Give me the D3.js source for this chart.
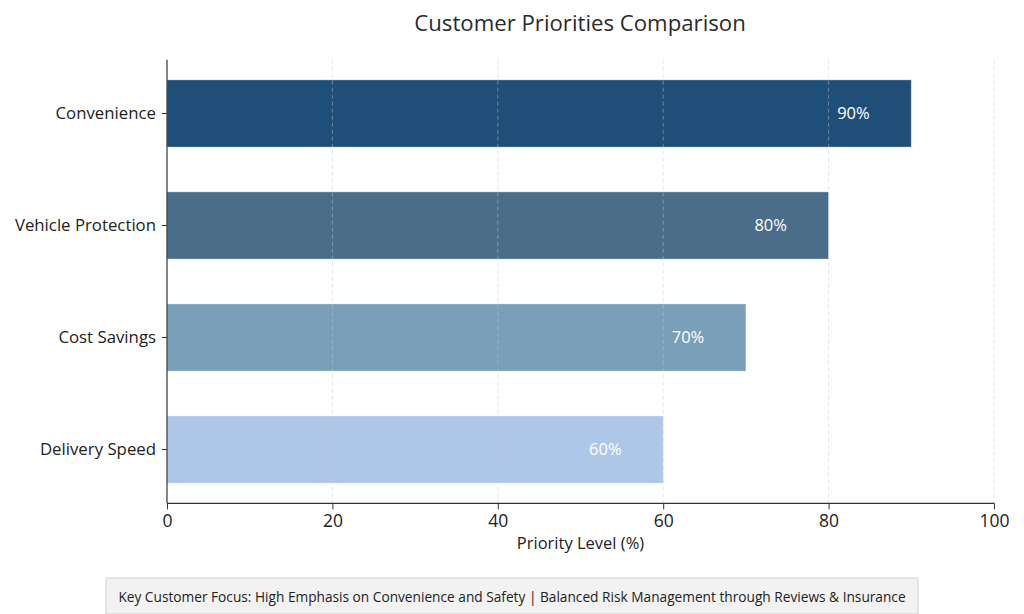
<!DOCTYPE html>
<html>
<head>
<meta charset="utf-8">
<script src="https://cdn.jsdelivr.net/npm/d3@7"></script>
<style>
  body { margin: 0; background: #fff; }
  svg { display: block; font-family: "Open Sans", "Lato", sans-serif; }
</style>
</head>
<body>
<svg id="chart" width="1024" height="614"></svg>
<script>
const categories = ["Convenience", "Vehicle Protection", "Cost Savings", "Delivery Speed"];
const values = [90, 80, 70, 60];
const barColors = ["#1f4e79", "#4a6d89", "#7a9fb8", "#aec6e8"];
const xTicks = [0, 20, 40, 60, 80, 100];
const title = "Customer Priorities Comparison";
const xLabel = "Priority Level (%)";
const note = "Key Customer Focus: High Emphasis on Convenience and Safety | Balanced Risk Management through Reviews & Insurance";

(function () {
const svg = d3.select("#chart");
const pLeft = 167, pRight = 994, pTop = 59.7, pBottom = 503.3;
const FONT = "'Open Sans', sans-serif";

const x = d3.scaleLinear().domain([0, 100]).range([pLeft, pRight]);
const y = d3.scaleBand().domain(categories).range([pTop, pBottom]).paddingInner(0.4).paddingOuter(0.18);

// title
svg.append("text").attr("x", 580).attr("y", 31).attr("text-anchor", "middle")
  .attr("font-size", 22.2).attr("fill", "#2b2b2b").text(title);

// bars
svg.append("g").selectAll("rect").data(categories).join("rect")
  .attr("x", x(0)).attr("y", d => y(d))
  .attr("width", (d, i) => x(values[i]) - x(0))
  .attr("height", y.bandwidth())
  .attr("fill", (d, i) => barColors[i])
  .attr("stroke", "#ffffff").attr("stroke-opacity", 0.35).attr("stroke-width", 1);

// grid (on top, dashed)
svg.append("g").selectAll("line").data(xTicks.filter(t => t > 0)).join("line")
  .attr("x1", d => x(d)).attr("x2", d => x(d))
  .attr("y1", pTop).attr("y2", pBottom)
  .attr("stroke", "#c8c8c8").attr("stroke-opacity", 0.6)
  .attr("stroke-dasharray", "4,3").attr("stroke-width", 0.8);

// value labels
svg.append("g").selectAll("text").data(categories).join("text")
  .attr("x", (d, i) => x(values[i] - 7))
  .attr("y", d => y(d) + y.bandwidth() / 2)
  .attr("dy", "0.35em").attr("text-anchor", "middle")
  .attr("font-size", 16.5).attr("fill", "#ffffff")
  .text((d, i) => values[i] + "%");

// axes
const xAxis = d3.axisBottom(x).tickValues(xTicks).tickFormat(d3.format("d")).tickSize(6).tickPadding(5);
const gx = svg.append("g").attr("transform", `translate(0,${pBottom})`).call(xAxis);
gx.select(".domain").attr("stroke", "#333").attr("stroke-width", 1.2).attr("d", `M${pLeft},0H${pRight}`);
gx.selectAll(".tick line").attr("stroke", "#333");
gx.selectAll(".tick text").attr("font-size", 17.5).attr("fill", "#222").attr("font-family", FONT);

const yAxis = d3.axisLeft(y).tickSize(5).tickPadding(6);
const gy = svg.append("g").attr("transform", `translate(${pLeft},0)`).call(yAxis);
gy.select(".domain").attr("stroke", "#333").attr("stroke-width", 1.2).attr("d", `M0,${pTop}V${pBottom}`);
gy.selectAll(".tick line").attr("stroke", "#333");
gy.selectAll(".tick text").attr("font-size", 16.8).attr("fill", "#222").attr("font-family", FONT);

// x label
svg.append("text").attr("x", (pLeft + pRight) / 2).attr("y", 549).attr("text-anchor", "middle")
  .attr("font-size", 16.5).attr("fill", "#222").text(xLabel);

// note box
const noteG = svg.append("g");
noteG.append("rect").attr("x", 106).attr("y", 578).attr("width", 812).attr("height", 36)
  .attr("fill", "#f2f2f2").attr("stroke", "#cfcfcf").attr("stroke-width", 1);
noteG.append("text").attr("x", 512).attr("y", 597).attr("dy", "0.35em").attr("text-anchor", "middle")
  .attr("font-size", 13.7).attr("fill", "#222").text(note);
})();
</script>
</body>
</html>
